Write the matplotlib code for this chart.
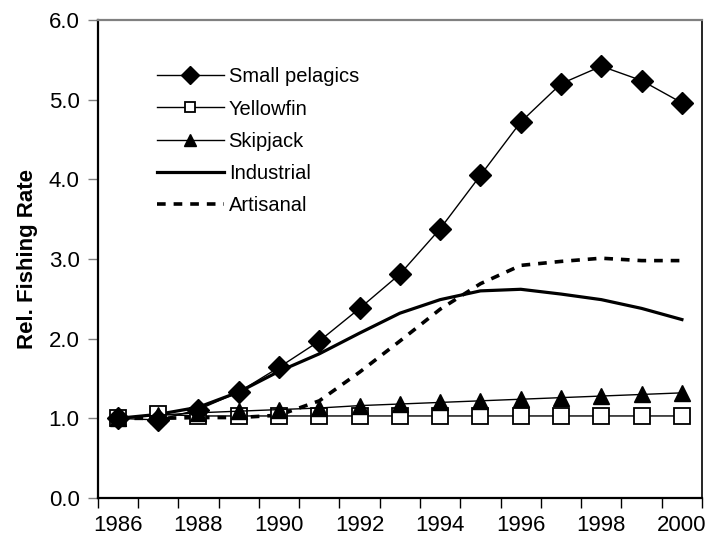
import matplotlib
matplotlib.use("Agg")
import matplotlib.pyplot as plt
from matplotlib.ticker import FixedLocator

plt.rcParams['font.family'] = ['Liberation Sans', 'DejaVu Sans']

years = list(range(1986, 2001))
small_pelagics = [1.00, 0.98, 1.11, 1.33, 1.64, 1.97, 2.38, 2.81, 3.38, 4.05, 4.72, 5.20, 5.42, 5.24, 4.96]
yellowfin = [1.00, 1.05, 1.03, 1.03, 1.03, 1.03, 1.03, 1.03, 1.03, 1.03, 1.03, 1.03, 1.03, 1.03, 1.03]
skipjack = [1.00, 1.04, 1.07, 1.09, 1.11, 1.13, 1.16, 1.18, 1.20, 1.22, 1.24, 1.26, 1.28, 1.30, 1.32]
industrial = [1.00, 1.05, 1.14, 1.33, 1.59, 1.81, 2.07, 2.32, 2.49, 2.60, 2.62, 2.56, 2.49, 2.38, 2.24]
artisanal = [1.00, 1.00, 1.01, 1.01, 1.04, 1.22, 1.58, 1.97, 2.37, 2.69, 2.92, 2.97, 3.01, 2.98, 2.98]

y_ticks = [0, 1, 2, 3, 4, 5, 6]
x_label_years = [1986, 1988, 1990, 1992, 1994, 1996, 1998, 2000]

fig = plt.figure(figsize=(7.07, 5.45), dpi=100)
ax = fig.add_axes([0.1382, 0.0862, 0.993 - 0.1382, 0.9633 - 0.0862])

ax.plot(years, small_pelagics, color='black', lw=1.0, marker='D', ms=11,
        mfc='black', mec='black', label='Small pelagics', zorder=5)
ax.plot(years, yellowfin, color='black', lw=1.0, marker='s', ms=11,
        mfc='white', mec='black', mew=1.3, label='Yellowfin', zorder=3)
ax.plot(years, skipjack, color='black', lw=1.0, marker='^', ms=12,
        mfc='black', mec='black', label='Skipjack', zorder=4)
ax.plot(years, industrial, color='black', lw=2.3, label='Industrial', zorder=2)
ax.plot(years, artisanal, color='black', lw=2.6, ls=(0, (2.4, 2.2)),
        label='Artisanal', zorder=2)

ax.set_xlim(1985.5, 2000.5)
ax.set_ylim(0, 6)

# category labels at even years, tick marks at category boundaries
ax.xaxis.set_major_locator(FixedLocator(x_label_years))
ax.set_xticklabels([str(y) for y in x_label_years])
ax.xaxis.set_minor_locator(FixedLocator([y - 0.5 for y in years] + [2000.5]))
ax.tick_params(axis='x', which='major', length=0, pad=12, labelsize=16)
ax.tick_params(axis='x', which='minor', length=7, width=1.0, direction='out')

ax.set_yticks(y_ticks)
ax.set_yticklabels([f"{v:.1f}" for v in y_ticks])
ax.tick_params(axis='y', length=7, width=1.0, direction='out', pad=6, labelsize=16,
               color='#808080')

ax.set_ylabel('Rel. Fishing Rate', fontsize=16, fontweight='bold', labelpad=8)

for side in ('left', 'bottom'):
    ax.spines[side].set_linewidth(1.6)
    ax.spines[side].set_color('black')
ax.spines['top'].set_color('#808080')
ax.spines['top'].set_linewidth(1.6)
ax.spines['right'].set_color('black')
ax.spines['right'].set_linewidth(1.2)

leg = ax.legend(loc='upper left', bbox_to_anchor=(0.085, 0.918), frameon=False,
                fontsize=14.5, handlelength=3.3, handletextpad=0.25,
                labelspacing=0.66, borderaxespad=0)
for h, ms in zip(leg.legend_handles, [9, 7, 9, None, None]):
    if ms is not None:
        h.set_markersize(ms)

fig.savefig('out.png', dpi=100)
